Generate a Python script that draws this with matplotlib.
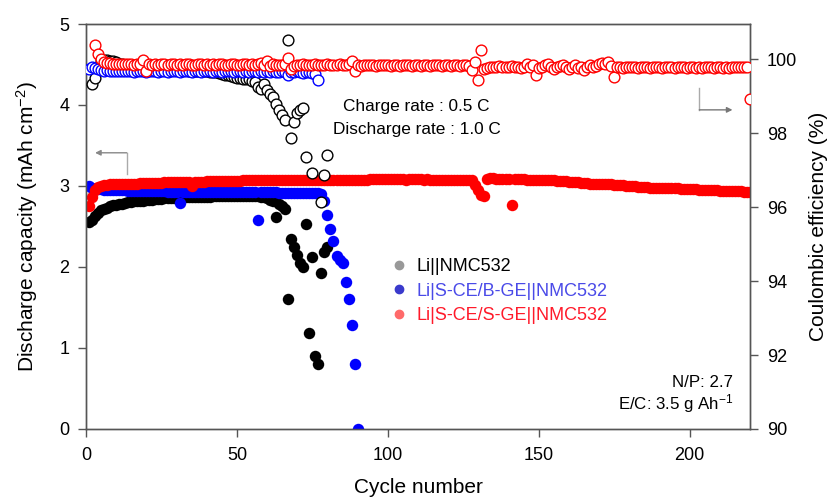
import numpy as np
import matplotlib
matplotlib.use("Agg")
import matplotlib.pyplot as plt
from matplotlib.lines import Line2D

plt.rcParams['font.family'] = ['Liberation Sans', 'DejaVu Sans']
plt.rcParams['mathtext.default'] = 'regular'

# ---------------- data ----------------
labels = ["Li||NMC532", "Li|S-CE/B-GE||NMC532", "Li|S-CE/S-GE||NMC532"]

black_cap = [2.55, 2.58, 2.63, 2.67, 2.70, 2.72, 2.73, 2.75, 2.76, 2.77,
             2.78, 2.78, 2.79, 2.80, 2.80, 2.81, 2.81, 2.82, 2.82, 2.83,
             2.83, 2.83, 2.84, 2.84, 2.84, 2.85, 2.85, 2.85, 2.85, 2.86,
             2.86, 2.86, 2.86, 2.86, 2.87, 2.87, 2.87, 2.87, 2.87, 2.87,
             2.87, 2.88, 2.88, 2.88, 2.88, 2.88, 2.88, 2.88, 2.88, 2.88,
             2.88, 2.88, 2.88, 2.88, 2.88, 2.88, 2.88, 2.87, 2.86, 2.85,
             2.83, 2.81, 2.62, 2.78, 2.75, 2.71, 1.60, 2.35, 2.25, 2.15,
             2.05, 2.00, 2.53, 1.19, 2.12, 0.90, 0.80, 1.93, 2.19, 2.25]

black_ce = [99.34, 99.48, 99.80, 99.95, 99.97, 99.98, 99.96, 99.94, 99.91,
            99.88, 99.86, 99.84, 99.82, 99.80, 99.78, 99.77, 99.76, 99.75, 99.75,
            99.74, 99.73, 99.73, 99.72, 99.72, 99.72, 99.71, 99.71, 99.71, 99.70,
            99.70, 99.70, 99.70, 99.69, 99.69, 99.69, 99.68, 99.68, 99.68, 99.67,
            99.66, 99.65, 99.64, 99.62, 99.60, 99.58, 99.56, 99.54, 99.52, 99.50,
            99.48, 99.47, 99.45, 99.45, 99.42, 99.38, 99.25, 99.20, 99.34, 99.16,
            99.07, 98.98, 98.80, 98.62, 98.49, 98.35, 100.51, 97.86, 98.30, 98.55,
            98.62, 98.67, 97.36, np.nan, 96.91, np.nan, np.nan, 96.13, 96.86, 97.42]

blue_cap = [3.00, 2.97, 2.96, 2.96, 2.96, 2.95, 2.95, 2.95, 2.95, 2.95,
            2.95, 2.95, 2.95, 2.94, 2.94, 2.94, 2.94, 2.94, 2.94, 2.94,
            2.94, 2.94, 2.94, 2.94, 2.94, 2.94, 2.93, 2.93, 2.93, 2.93,
            2.79, 2.93, 2.93, 2.93, 2.93, 2.93, 2.93, 2.93, 2.93, 2.93,
            2.93, 2.93, 2.93, 2.93, 2.92, 2.92, 2.92, 2.92, 2.92, 2.92,
            2.92, 2.92, 2.92, 2.92, 2.92, 2.92, 2.58, 2.92, 2.92, 2.92,
            2.92, 2.92, 2.92, 2.91, 2.91, 2.91, 2.91, 2.91, 2.91, 2.91,
            2.91, 2.91, 2.91, 2.91, 2.91, 2.91, 2.91, 2.90, 2.81, 2.64,
            2.47, 2.32, 2.14, 2.09, 2.05, 1.81, 1.61, 1.28, 0.80, 0.00]

blue_ce = [99.72, 99.80, 99.76, 99.72, 99.70, 99.69, 99.70, 99.68, 99.69, 99.67,
           99.69, 99.68, 99.67, 99.69, 99.68, 99.66, 99.69, 99.67, 99.68, 99.66,
           99.69, 99.67, 99.68, 99.66, 99.69, 99.67, 99.65, 99.68, 99.67, 99.69,
           99.66, 99.68, 99.67, 99.69, 99.65, 99.68, 99.67, 99.66, 99.69, 99.67,
           99.68, 99.66, 99.69, 99.67, 99.65, 99.68, 99.67, 99.69, 99.66, 99.68,
           99.67, 99.65, 99.68, 99.66, 99.69, 99.67, 99.65, 99.68, 99.66, 99.67,
           99.65, 99.68, 99.66, 99.64, 99.67, 99.65, 99.57, 99.66, 99.64, 99.67,
           99.65, 99.63, 99.66, 99.64, 99.63, 99.61, 99.43]

red_cap = [2.75, 2.86, 2.95, 2.99, 3.00, 3.01, 3.01, 3.02, 3.02, 3.02,
           3.02, 3.03, 3.03, 3.03, 3.03, 3.03, 3.03, 3.04, 3.04, 3.04,
           3.04, 3.04, 3.04, 3.04, 3.04, 3.05, 3.05, 3.05, 3.05, 3.05,
           3.05, 3.05, 3.05, 3.05, 3.00, 3.05, 3.05, 3.05, 3.05, 3.06,
           3.06, 3.06, 3.06, 3.06, 3.06, 3.06, 3.06, 3.06, 3.06, 3.06,
           3.06, 3.07, 3.07, 3.07, 3.07, 3.07, 3.07, 3.07, 3.07, 3.07,
           3.07, 3.07, 3.07, 3.07, 3.07, 3.08, 3.08, 3.08, 3.08, 3.08,
           3.08, 3.08, 3.08, 3.08, 3.08, 3.08, 3.08, 3.08, 3.08, 3.08,
           3.08, 3.08, 3.08, 3.08, 3.08, 3.08, 3.08, 3.08, 3.08, 3.08,
           3.08, 3.08, 3.08, 3.09, 3.09, 3.09, 3.09, 3.09, 3.09, 3.09,
           3.09, 3.09, 3.09, 3.09, 3.09, 3.08, 3.09, 3.09, 3.09, 3.09,
           3.09, 3.08, 3.09, 3.08, 3.08, 3.08, 3.08, 3.08, 3.08, 3.08,
           3.08, 3.08, 3.08, 3.08, 3.08, 3.08, 3.08, 3.08, 3.01, 2.95,
           2.89, 2.88, 3.09, 3.10, 3.10, 3.09, 3.09, 3.09, 3.09, 3.09,
           2.77, 3.09, 3.09, 3.09, 3.09, 3.08, 3.08, 3.08, 3.08, 3.08,
           3.08, 3.07, 3.07, 3.07, 3.07, 3.06, 3.06, 3.06, 3.06, 3.05,
           3.05, 3.05, 3.05, 3.04, 3.04, 3.04, 3.03, 3.03, 3.03, 3.03,
           3.02, 3.02, 3.02, 3.02, 3.01, 3.01, 3.01, 3.01, 3.00, 3.00,
           3.00, 3.00, 2.99, 2.99, 2.99, 2.99, 2.98, 2.98, 2.98, 2.98,
           2.98, 2.97, 2.97, 2.97, 2.97, 2.97, 2.96, 2.96, 2.96, 2.96,
           2.96, 2.96, 2.95, 2.95, 2.95, 2.95, 2.95, 2.95, 2.95, 2.94,
           2.94, 2.94, 2.94, 2.94, 2.94, 2.94, 2.94, 2.93, 2.93, 2.93]

# red CE starts at cycle 3
red_ce = [100.38, 100.15, 100.00, 99.93, 99.90, 99.89, 99.88, 99.87, 99.87, 99.86,
          99.87, 99.86, 99.87, 99.85, 99.87, 99.88, 99.99, 99.68, 99.86, 99.85,
          99.87, 99.85, 99.86, 99.87, 99.85, 99.86, 99.87, 99.85, 99.86, 99.84,
          99.86, 99.87, 99.85, 99.84, 99.86, 99.87, 99.85, 99.86, 99.84, 99.87,
          99.85, 99.86, 99.87, 99.84, 99.85, 99.87, 99.86, 99.84, 99.85, 99.87,
          99.86, 99.85, 99.87, 99.84, 99.86, 99.89, 99.85, 99.95, 99.82, 99.86,
          99.84, 99.85, 99.83, 99.86, 100.04, 99.72, 99.82, 99.85, 99.84, 99.86,
          99.83, 99.85, 99.84, 99.86, 99.83, 99.85, 99.84, 99.86, 99.83, 99.85,
          99.84, 99.86, 99.83, 99.85, 99.87, 99.95, 99.68, 99.84, 99.82, 99.85,
          99.84, 99.83, 99.85, 99.82, 99.84, 99.83, 99.85, 99.84, 99.82, 99.83,
          99.84, 99.82, 99.85, 99.83, 99.84, 99.82, 99.83, 99.85, 99.82, 99.84,
          99.83, 99.82, 99.84, 99.83, 99.85, 99.82, 99.84, 99.83, 99.82, 99.84,
          99.83, 99.82, 99.84, 99.83, 99.81, 99.70, 99.93, 99.43, 100.26, 99.72,
          99.76, 99.80, 99.78, 99.80, 99.82, 99.78, 99.80, 99.79, 99.81, 99.78,
          99.80, 99.77, 99.79, 99.86, 99.80, 99.84, 99.57, 99.75, 99.80, 99.84,
          99.88, 99.80, 99.74, 99.78, 99.82, 99.85, 99.79, 99.72, 99.80, 99.83,
          99.76, 99.78, 99.70, 99.80, 99.83, 99.78, 99.82, 99.86, 99.90, 99.88,
          99.92, 99.82, 99.52, 99.78, 99.80, 99.76, 99.79, 99.80, 99.78, 99.79,
          99.77, 99.80, 99.78, 99.79, 99.77, 99.80, 99.78, 99.79, 99.77, 99.80,
          99.78, 99.79, 99.76, 99.80, 99.78, 99.79, 99.77, 99.80, 99.78, 99.76,
          99.79, 99.77, 99.80, 99.78, 99.79, 99.77, 99.80, 99.78, 99.76, 99.79,
          99.77, 99.80, 99.78, 99.79, 99.80, 99.79, 99.79, 98.91]

black_cyc = np.arange(1, len(black_cap) + 1)
black_ce_cyc = np.arange(2, len(black_ce) + 2)
blue_cyc = np.arange(1, len(blue_cap) + 1)
blue_ce_cyc = np.arange(1, len(blue_ce) + 1)
red_cyc = np.arange(1, len(red_cap) + 1)
red_ce_cyc = np.arange(3, len(red_ce) + 3)

# ---------------- figure ----------------
fig = plt.figure(figsize=(8.32, 4.99), dpi=100)
ax = fig.add_axes([0.1034, 0.1403, 0.7980, 0.8116])
ax2 = ax.twinx()

spine_c = '#555555'
S = 68
SO = 60
ax.scatter(black_cyc, black_cap, s=S, color='black', lw=0, zorder=3)
ax.scatter(blue_cyc, blue_cap, s=S, color='#0000ff', lw=0, zorder=4)
ax.scatter(red_cyc, red_cap, s=S, color='#ff0000', lw=0, zorder=5)

ax2.scatter(black_ce_cyc, black_ce, s=SO, facecolor='white', edgecolor='black', lw=1.0, zorder=3)
ax2.scatter(blue_ce_cyc, blue_ce, s=SO, facecolor='white', edgecolor='#0000ff', lw=1.0, zorder=4)
ax2.scatter(red_ce_cyc, red_ce, s=SO, facecolor='white', edgecolor='#ff0000', lw=1.0, zorder=5)

ax.set_xlim(0, 220)
ax.set_ylim(0, 5)
ax2.set_ylim(90, 100.95)
ax.set_xticks([0, 50, 100, 150, 200])
ax.set_yticks([0, 1, 2, 3, 4, 5])
ax2.set_yticks([90, 92, 94, 96, 98, 100])

for a in (ax, ax2):
    for sp in a.spines.values():
        sp.set_color(spine_c)
        sp.set_linewidth(1.0)
    a.tick_params(direction='out', length=6, width=1, color=spine_c, labelsize=13, pad=6)
ax.tick_params(axis='x', pad=7)

ax.set_xlabel('Cycle number', fontsize=15, labelpad=10)
ax.set_ylabel('Discharge capacity (mAh cm$^{-2}$)', fontsize=15, labelpad=14)
ax2.set_ylabel('Coulombic efficiency (%)', fontsize=15, labelpad=9)

# annotations
ax.text(109.5, 3.98, 'Charge rate : 0.5 C', ha='center', va='center', fontsize=12.4)
ax.text(109.5, 3.70, 'Discharge rate : 1.0 C', ha='center', va='center', fontsize=12.4)
ax.text(214.5, 0.58, 'N/P: 2.7', ha='right', va='center', fontsize=12.2)
ax.text(214.5, 0.32, 'E/C: 3.5 g Ah$^{-1}$', ha='right', va='center', fontsize=12.2)

# arrows
ax.plot([13.5, 13.5], [3.15, 3.41], color='#aaaaaa', lw=1, zorder=2)
ax.annotate('', xy=(3.0, 3.41), xytext=(13.5, 3.41),
            arrowprops=dict(arrowstyle='-|>', color='#888888', lw=1,
                            mutation_scale=8, shrinkA=0, shrinkB=0), zorder=2)
ax.plot([203.2, 203.2], [4.21, 3.94], color='#aaaaaa', lw=1, zorder=2)
ax.annotate('', xy=(214.2, 3.94), xytext=(203.2, 3.94),
            arrowprops=dict(arrowstyle='-|>', color='#777777', lw=1,
                            mutation_scale=8, shrinkA=0, shrinkB=0), zorder=2)

handles = [Line2D([], [], ls='none', marker='o', ms=6, color='#999999'),
           Line2D([], [], ls='none', marker='o', ms=6, color='#3a3acc'),
           Line2D([], [], ls='none', marker='o', ms=6, color='#ff6a6a')]
leg = ax2.legend(handles, labels, loc='upper left', bbox_to_anchor=(0.447, 0.44),
                 frameon=False, fontsize=13, handletextpad=0.45,
                 labelspacing=0.42, borderaxespad=0, handlelength=1.0,
                 labelcolor=['black', '#4a4ae8', '#ff1a2a'])

fig.savefig('out.png', dpi=100)
